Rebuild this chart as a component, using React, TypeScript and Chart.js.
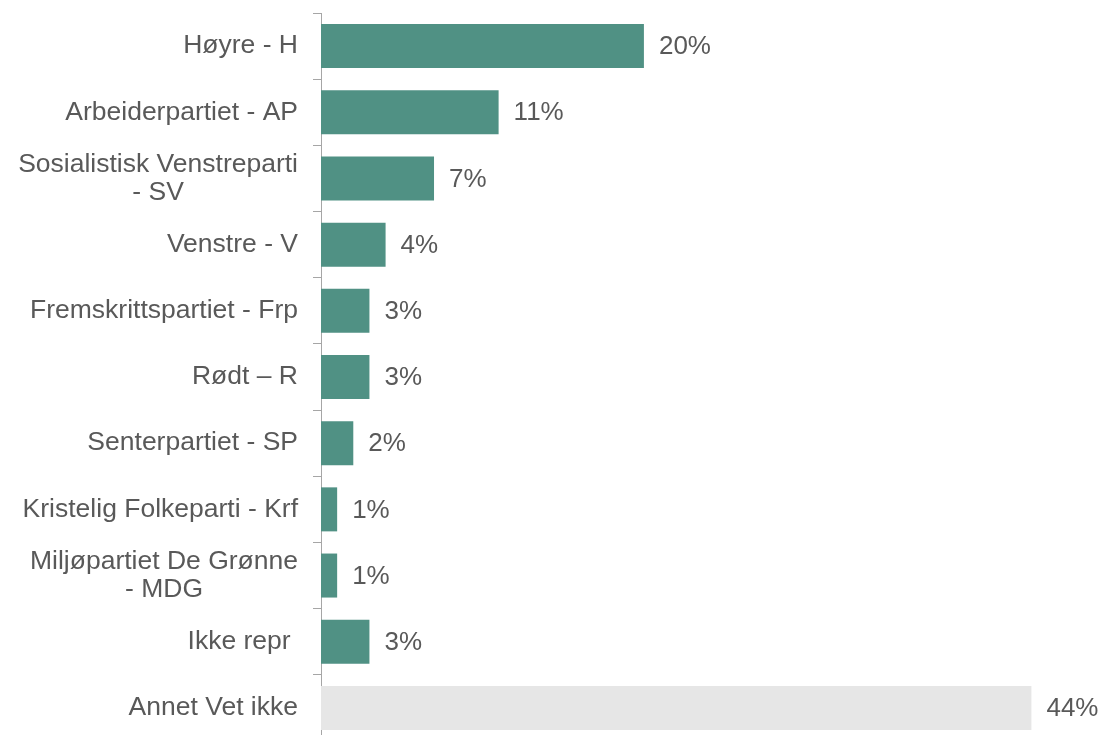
import React, { useEffect, useRef } from "react";
import { Chart, registerables } from "chart.js";

Chart.register(...registerables);

const categories: (string | string[])[] = [
  "Høyre - H",
  "Arbeiderpartiet - AP",
  ["Sosialistisk Venstreparti", "- SV"],
  "Venstre - V",
  "Fremskrittspartiet - Frp",
  "Rødt – R",
  "Senterpartiet - SP",
  "Kristelig Folkeparti - Krf",
  ["Miljøpartiet De Grønne", "- MDG"],
  "Ikke repr ",
  "Annet Vet ikke",
];

const values: number[] = [20, 11, 7, 4, 3, 3, 2, 1, 1, 3, 44];

const valueLabels: string[] = ["20%", "11%", "7%", "4%", "3%", "3%", "2%", "1%", "1%", "3%", "44%"];

const TEAL = "#509184";
const GREY = "#e6e6e6";
const barColors: string[] = values.map((_, i) => (i === values.length - 1 ? GREY : TEAL));

const FONT = "'Liberation Sans', Arial, sans-serif";
const TEXT = "#595959";
const CAT_FONT_SIZE = 26.5;
const LINE_H = 28;

const valueLabelPlugin = {
  id: "valueLabels",
  afterDatasetsDraw(chart: any) {
    const ctx = chart.ctx;
    const meta = chart.getDatasetMeta(0);
    ctx.save();
    ctx.font = `26px ${FONT}`;
    ctx.fillStyle = TEXT;
    ctx.textAlign = "left";
    ctx.textBaseline = "middle";
    meta.data.forEach((bar: any, i: number) => {
      ctx.fillText(valueLabels[i], bar.x + 15, bar.y + 1);
    });
    ctx.restore();
  },
};

// Category labels: block right-aligned to the axis, lines centred within the block
const categoryLabelPlugin = {
  id: "categoryLabels",
  afterDraw(chart: any) {
    const ctx = chart.ctx;
    const yScale = chart.scales.y;
    const rightEdge = yScale.right - 8 - 15;
    ctx.save();
    ctx.font = `${CAT_FONT_SIZE}px ${FONT}`;
    ctx.fillStyle = TEXT;
    ctx.textBaseline = "middle";
    ctx.textAlign = "center";
    categories.forEach((cat, i) => {
      const lines = Array.isArray(cat) ? cat : [cat];
      const widths = lines.map((l) => ctx.measureText(l).width);
      const blockW = Math.max(...widths);
      const cx = rightEdge - blockW / 2;
      const cy = yScale.getPixelForTick(i);
      const startY = cy - ((lines.length - 1) * LINE_H) / 2;
      lines.forEach((l, j) => {
        ctx.fillText(l, cx, startY + j * LINE_H);
      });
    });
    ctx.restore();
  },
};

export default function App() {
  const canvasRef = useRef<HTMLCanvasElement | null>(null);

  useEffect(() => {
    if (!canvasRef.current) return;
    const chart = new Chart(canvasRef.current, {
      type: "bar",
      data: {
        labels: categories,
        datasets: [
          {
            data: values,
            backgroundColor: barColors,
            borderWidth: 0,
            barPercentage: 0.665,
            categoryPercentage: 1,
          },
        ],
      },
      options: {
        indexAxis: "y",
        animation: false,
        responsive: true,
        maintainAspectRatio: false,
        layout: { padding: { top: 13, bottom: 4, left: 0, right: 6 } },
        plugins: {
          legend: { display: false },
          tooltip: { enabled: false },
        },
        scales: {
          x: {
            display: false,
            min: 0,
            max: 48,
          },
          y: {
            grid: {
              drawOnChartArea: false,
              drawTicks: true,
              tickLength: 8,
              color: "#a6a6a6",
              lineWidth: 1,
            },
            border: { display: true, color: "#a6a6a6", width: 1 },
            ticks: {
              padding: 15,
              color: "rgba(0,0,0,0)",
              font: { family: FONT, size: CAT_FONT_SIZE, lineHeight: 1.08 },
            },
            afterFit(scale: any) {
              scale.width = 321;
              scale.paddingTop = 0;
              scale.paddingBottom = 0;
            },
          },
        },
      },
      plugins: [valueLabelPlugin, categoryLabelPlugin],
    });
    return () => chart.destroy();
  }, []);

  return (
    <div
      style={{
        position: "fixed",
        left: 0,
        top: 0,
        width: 1102,
        height: 735,
        overflow: "hidden",
        background: "#ffffff",
      }}
    >
      <div style={{ position: "relative", width: 1102, height: 745 }}>
        <canvas ref={canvasRef} />
      </div>
    </div>
  );
}
